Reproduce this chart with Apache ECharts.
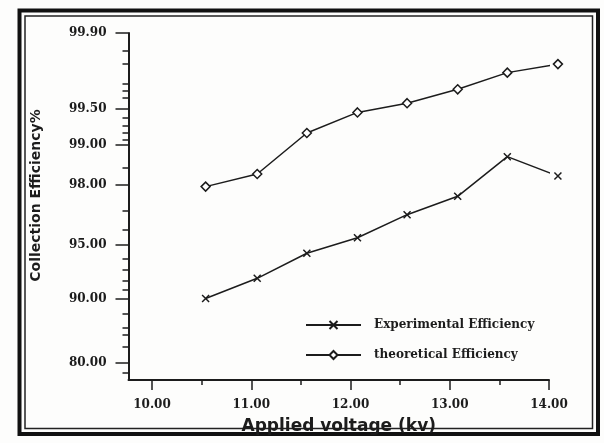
<!DOCTYPE html>
<html>
<head>
<meta charset="utf-8">
<script src="https://cdn.jsdelivr.net/npm/echarts@6.0.0/dist/echarts.min.js"></script>
<style>
  html, body { margin: 0; padding: 0; background: #fdfdfc; }
  #chart { width: 604px; height: 443px; }
</style>
</head>
<body>
<div id="chart"></div>
<script>
// ---------------- data ----------------
const voltage = [10.54, 11.06, 11.56, 12.07, 12.57, 13.08, 13.58, 14.09];
const experimentalEff = [90.0, 92.2, 94.4, 95.5, 96.8, 97.6, 98.77, 98.28];
const theoreticalEff = [97.95, 98.34, 99.2, 99.46, 99.55, 99.66, 99.76, 99.8];
const seriesNames = ['Experimental Efficiency', 'theoretical Efficiency'];

// tick labels (probability scale)
const yMajorTicks = [80, 90, 95, 98, 99, 99.5, 99.9];
const yMinorTicks = [78, 83, 85, 86, 88, 91, 92, 93, 94, 96, 97, 98.5,
                     99.1, 99.2, 99.3, 99.4, 99.6, 99.65, 99.7, 99.8, 99.85];
const xMajorTicks = [10, 11, 12, 13, 14];
const xMinorTicks = [10.5, 11.5, 12.5, 13.5];
const yRange = [76.6, 99.9];
const xRange = [9.763, 14];

// inverse normal CDF (probability-paper scale)
function probit(p) {
  const a = [-3.969683028665376e+01, 2.209460984245205e+02, -2.759285104469687e+02,
             1.383577518672690e+02, -3.066479806614716e+01, 2.506628277459239e+00];
  const b = [-5.447609879822406e+01, 1.615858368580409e+02, -1.556989798598866e+02,
             6.680131188771972e+01, -1.328068155833803e+01];
  const c = [-7.784894002430293e-03, -3.223964580411365e-01, -2.400758277161838e+00,
             -2.549732539343734e+00, 4.374664141464968e+00, 2.938163982698783e+00];
  const d = [7.784695709041462e-03, 3.224671290700398e-01, 2.445134137142996e+00,
             3.754408661907416e+00];
  const plow = 0.02425, phigh = 1 - plow;
  let q, r;
  if (p < plow) {
    q = Math.sqrt(-2 * Math.log(p));
    return (((((c[0]*q+c[1])*q+c[2])*q+c[3])*q+c[4])*q+c[5]) /
           ((((d[0]*q+d[1])*q+d[2])*q+d[3])*q+1);
  } else if (p <= phigh) {
    q = p - 0.5; r = q * q;
    return (((((a[0]*r+a[1])*r+a[2])*r+a[3])*r+a[4])*r+a[5])*q /
           (((((b[0]*r+b[1])*r+b[2])*r+b[3])*r+b[4])*r+1);
  } else {
    q = Math.sqrt(-2 * Math.log(1 - p));
    return -(((((c[0]*q+c[1])*q+c[2])*q+c[3])*q+c[4])*q+c[5]) /
            ((((d[0]*q+d[1])*q+d[2])*q+d[3])*q+1);
  }
}
const pz = v => probit(v / 100);

function labelFor(z) {
  let best = yMajorTicks[0], bd = Infinity;
  yMajorTicks.forEach(v => { const dd = Math.abs(pz(v) - z); if (dd < bd) { bd = dd; best = v; } });
  return best.toFixed(2);
}

const ink = '#1c1c1c';
const tickFont = { fontFamily: 'DejaVu Serif', fontWeight: 'bold', fontSize: 12, color: ink };

const chart = echarts.init(document.getElementById('chart'), null, { renderer: 'canvas' });
chart.setOption({
  backgroundColor: '#fdfdfc',
  animation: false,
  grid: { left: 128.5, right: 55, top: 33, bottom: 63, containLabel: false },
  legend: {
    orient: 'vertical',
    left: 300, top: 314,
    itemWidth: 55, itemHeight: 10, itemGap: 18,
    data: seriesNames,
    textStyle: { fontFamily: 'DejaVu Serif', fontWeight: 'bold', fontSize: 12, color: ink, padding: [0, 0, 0, 8] }
  },
  xAxis: [
    {
      type: 'value', min: xRange[0], max: xRange[1],
      name: 'Applied voltage (kv)', nameLocation: 'middle', nameGap: 38,
      nameTextStyle: { fontFamily: 'DejaVu Sans', fontWeight: 'bold', fontSize: 17, color: ink },
      axisLine: { show: true, lineStyle: { color: ink, width: 2 } },
      axisTick: { show: true, length: 10, lineStyle: { color: ink, width: 1.5 }, customValues: xMajorTicks },
      axisLabel: { ...tickFont, margin: 19, customValues: xMajorTicks, formatter: v => v.toFixed(2) },
      splitLine: { show: false }
    },
    {
      type: 'value', min: xRange[0], max: xRange[1], position: 'bottom', offset: 0,
      axisLine: { show: false },
      axisTick: { show: true, length: 5, lineStyle: { color: ink, width: 1.5 }, customValues: xMinorTicks },
      axisLabel: { show: false },
      splitLine: { show: false }
    }
  ],
  yAxis: [
    {
      type: 'value', min: pz(yRange[0]), max: pz(yRange[1]),
      name: 'Collection Efficiency%', nameLocation: 'middle', nameGap: 85, nameRotate: 90,
      nameTextStyle: { fontFamily: 'DejaVu Sans', fontWeight: 'bold', fontSize: 14, color: ink, padding: [0, 0, 0, 22] },
      axisLine: { show: true, lineStyle: { color: ink, width: 2 } },
      axisTick: { show: true, length: 13, lineStyle: { color: ink, width: 1.5 }, customValues: yMajorTicks.map(pz) },
      axisLabel: { ...tickFont, margin: 22, customValues: yMajorTicks.map(pz), formatter: labelFor },
      splitLine: { show: false }
    },
    {
      type: 'value', min: pz(yRange[0]), max: pz(yRange[1]), position: 'left', offset: 0,
      axisLine: { show: false },
      axisTick: { show: true, length: 6, lineStyle: { color: ink, width: 1.5 }, customValues: yMinorTicks.map(pz) },
      axisLabel: { show: false },
      splitLine: { show: false }
    }
  ],
  graphic: [
    { type: 'rect', silent: true, shape: { x: 19.5, y: 10.5, width: 578.5, height: 423.5 },
      style: { fill: 'none', stroke: '#111', lineWidth: 4 } },
    { type: 'rect', silent: true, shape: { x: 25, y: 16, width: 567.5, height: 412.5 },
      style: { fill: 'none', stroke: '#222', lineWidth: 1.5 } }
  ],
  series: [
    {
      name: seriesNames[0], type: 'line', clip: false,
      data: voltage.map((x, i) => [x, pz(experimentalEff[i])]),
      symbol: 'path://M0,0L10,10M10,0L0,10', symbolSize: 7, showAllSymbol: true,
      lineStyle: { color: ink, width: 1.5 },
      itemStyle: { color: ink, borderColor: ink, borderWidth: 1.5 }
    },
    {
      name: seriesNames[1], type: 'line', clip: false,
      data: voltage.map((x, i) => [x, pz(theoreticalEff[i])]),
      symbol: 'diamond', symbolSize: 9, showAllSymbol: true,
      lineStyle: { color: ink, width: 1.5 },
      itemStyle: { color: '#ffffff', borderColor: ink, borderWidth: 1.5 }
    }
  ]
});
</script>
</body>
</html>
